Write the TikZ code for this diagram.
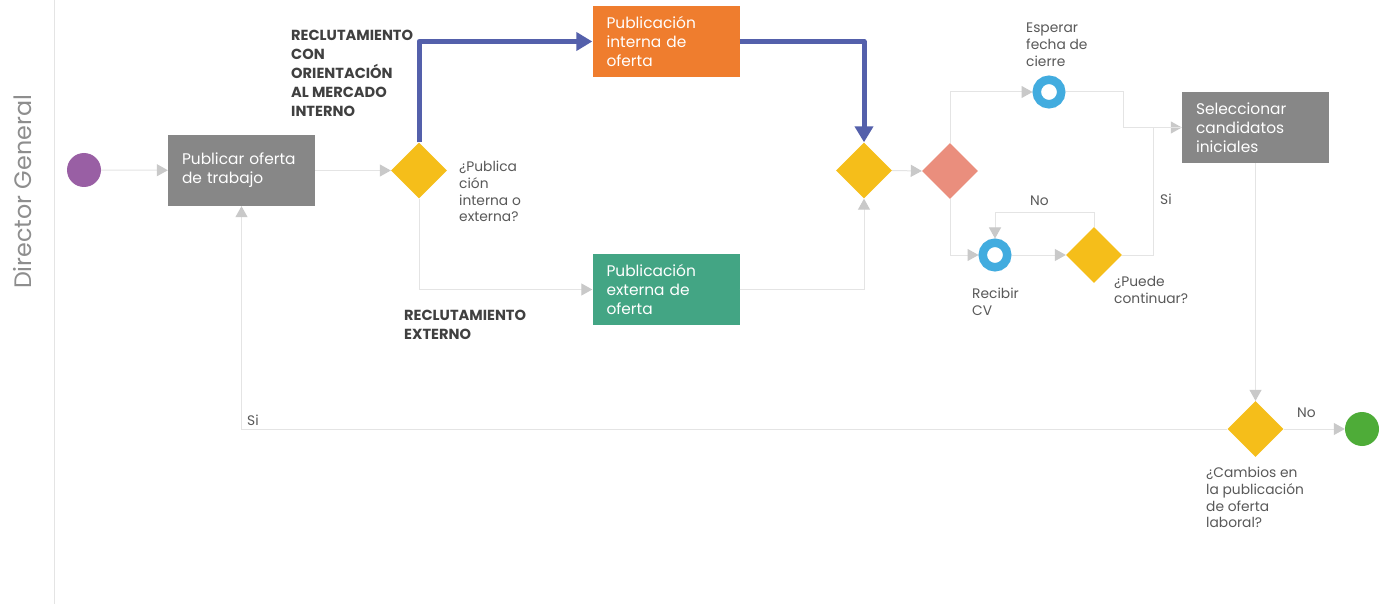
\documentclass[tikz,border=0pt]{standalone}
\usepackage{fontspec}
\setmainfont{Poppins}
\usetikzlibrary{arrows.meta,shapes.geometric}
\definecolor{startpurple}{HTML}{995FA4}
\definecolor{taskgrey}{HTML}{878787}
\definecolor{gateyellow}{HTML}{F5BE1A}
\definecolor{taskorange}{HTML}{EF7D2E}
\definecolor{taskgreen}{HTML}{43A584}
\definecolor{gatesalmon}{HTML}{EA8E7D}
\definecolor{ringblue}{HTML}{42ACDF}
\definecolor{endgreen}{HTML}{4EAC38}
\definecolor{flowblue}{HTML}{5460AB}
\definecolor{linegrey}{HTML}{E4E4E4}
\definecolor{arrowgrey}{HTML}{C9C9C9}
\definecolor{labelgrey}{HTML}{595959}
\definecolor{boldgrey}{HTML}{404040}
\definecolor{lanegrey}{HTML}{8E8E8E}
\begin{document}
\begin{tikzpicture}[x=1pt,y=-1pt,
  task/.style={rectangle, minimum width=147pt, minimum height=71pt, inner sep=0pt,
    text width=119pt, align=left, text=white, font=\fontsize{15.4}{19.2}\selectfont},
  gate/.style={diamond, minimum width=56pt, minimum height=56pt, inner sep=0pt, fill=gateyellow},
  ringevent/.style={circle, draw=ringblue, line width=8.5pt, fill=white, minimum size=24.5pt, inner sep=0pt},
  dotevent/.style={circle, minimum size=34pt, inner sep=0pt},
  flow/.style={draw=linegrey, line width=1pt, -{Triangle[length=11pt,width=12pt,color=arrowgrey]}},
  plainflow/.style={draw=linegrey, line width=1pt},
  blueflow/.style={draw=flowblue, line width=5pt, line join=round, -{Triangle[length=16pt,width=18pt]}},
  smalllabel/.style={anchor=north west, inner sep=0pt, align=left, text=labelgrey, font=\fontsize{13.8}{16.7}\selectfont},
  boldlabel/.style={anchor=north west, inner sep=0pt, align=left, text=boldgrey, font=\bfseries\fontsize{14.6}{19}\selectfont}
]
\useasboundingbox (0,0) rectangle (1384,604);
\fill[white] (0,0) rectangle (1384,604);

% lane
\draw[draw=linegrey, line width=1pt] (54,0) -- (54,604);
\node[rotate=90, text=lanegrey, font=\fontsize{23.8}{26}\selectfont, inner sep=0pt] (lane) at (23,192) {Director General};

% nodes
\node[dotevent, fill=startpurple] (start) at (84,170) {};
\node[task, fill=taskgrey] (pub) at (241.5,170.5) {Publicar oferta\\de trabajo};
\node[gate] (d1) at (419,170.5) {};
\node[task, fill=taskorange] (intern) at (666,41.5) {Publicación\\interna de\\oferta};
\node[task, fill=taskgreen] (extern) at (666,289.5) {Publicación\\externa de\\oferta};
\node[gate] (d2) at (864,170.5) {};
\node[gate, fill=gatesalmon] (split) at (950,171) {};
\node[ringevent] (wait) at (1049,92) {};
\node[ringevent] (recv) at (995,255) {};
\node[gate] (d3) at (1094,255) {};
\node[task, fill=taskgrey] (sel) at (1255.5,127.5) {Seleccionar\\candidatos\\iniciales};
\node[gate] (d4) at (1255.5,429) {};
\node[dotevent, fill=endgreen] (end) at (1362,429) {};

% labels
\node[boldlabel] (lblint) at (291,30) {RECLUTAMIENTO\\CON\\ORIENTACIÓN\\AL MERCADO\\INTERNO};
\node[boldlabel] (lblext) at (404,310) {RECLUTAMIENTO\\EXTERNO};
\node[smalllabel] (q1) at (459,161) {¿Publica\\ción\\interna o\\externa?};
\node[smalllabel] (lwait) at (1026,23) {Esperar\\fecha de\\cierre};
\node[smalllabel] (lrecv) at (972,288) {Recibir\\CV};
\node[smalllabel] (q3) at (1114,276) {¿Puede\\continuar?};
\node[smalllabel] (q4) at (1206,467) {¿Cambios en\\la publicación\\de oferta\\laboral?};
\node[smalllabel] (no3) at (1030,196) {No};
\node[smalllabel] (si3) at (1160,194) {Si};
\node[smalllabel] (no4) at (1297,408) {No};
\node[smalllabel] (si4) at (247,415) {Si};

% connectors
\draw[flow] (start) -- (pub);
\draw[flow] (pub.east) -- (d1.west);
\draw[blueflow] (d1.north) |- (intern.west);
\draw[blueflow] (intern.east) -| (d2.north);
\draw[flow] (d1.south) |- (extern.west);
\draw[flow] (extern.east) -| (d2.south);
\draw[flow] (d2.east) -- (split.west);
\draw[flow] (split.north) |- (wait.west);
\draw[flow] (wait.east) -- ++(58,0) |- (sel.west);
\draw[flow] (split.south) |- (recv.west);
\draw[flow] (recv.east) -- (d3.west);
\draw[flow] (d3.north) -- ++(0,-14) -| (recv.north);
\draw[plainflow] (d3.east) -- ++(31,0) |- (sel.west);
\draw[flow] (sel.south) -- (d4.north);
\draw[flow] (d4.east) -- (end.west);
\draw[flow] (d4.west) -| (pub.south);
\end{tikzpicture}
\end{document}
